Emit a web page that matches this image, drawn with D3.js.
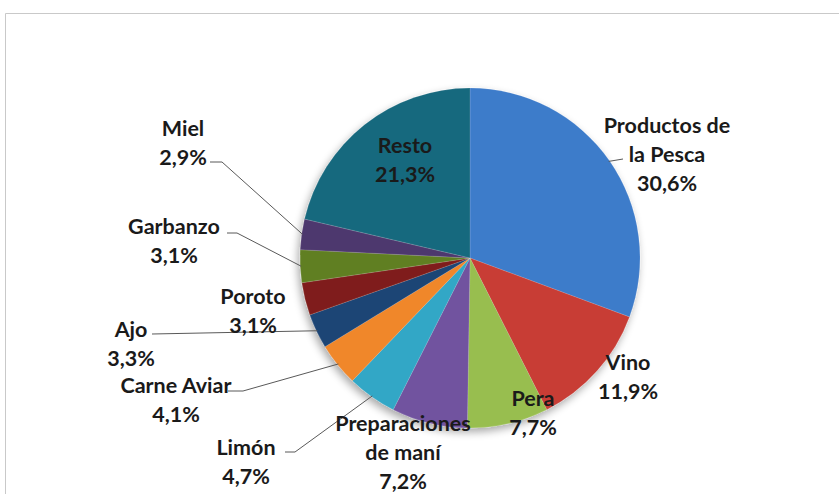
<!DOCTYPE html>
<html>
<head>
<meta charset="utf-8">
<script src="https://cdn.jsdelivr.net/npm/d3@7/dist/d3.min.js"></script>
<style>
  html, body { margin: 0; padding: 0; background: #fff; }
  svg { display: block; }
  text { font-family: "Lato", "Open Sans", sans-serif; font-weight: 700; fill: #1a1a1a; }
</style>
</head>
<body>
<svg id="chart" width="839" height="494"></svg>
<script>
// ---- data ----
const categories = ["Productos de la Pesca", "Vino", "Pera", "Preparaciones de maní", "Limón",
  "Carne Aviar", "Ajo", "Poroto", "Garbanzo", "Miel", "Resto"];
const values = [30.6, 11.9, 7.7, 7.2, 4.7, 4.1, 3.3, 3.1, 3.1, 2.9, 21.3];
const labelLines = [["Productos de", "la Pesca"], ["Vino"], ["Pera"], ["Preparaciones", "de maní"], ["Limón"],
  ["Carne Aviar"], ["Ajo"], ["Poroto"], ["Garbanzo"], ["Miel"], ["Resto"]];
const colors = ["#3a76c2", "#c03a34", "#92b64c", "#6c5098", "#31a0be",
  "#e6812a", "#1c426f", "#7a1e1a", "#5c7a22", "#4b3669", "#186579"];

// ---- layout (label anchor: center x, first line center y; leader elbow) ----
const labelPos = [
  {x: 667, y: 125, elbow: [623, 159], leader: true},
  {x: 628, y: 362},
  {x: 533, y: 398},
  {x: 403, y: 423},
  {x: 246, y: 447, elbow: [285, 452], elbow2: [295, 452], leader: true},
  {x: 176, y: 385, elbow: [228, 391], elbow2: [243, 391], leader: true},
  {x: 131, y: 329, elbow: [152, 334], elbow2: [152, 334], leader: true},
  {x: 253, y: 296},
  {x: 174, y: 226, elbow: [227, 233], elbow2: [237, 233], leader: true},
  {x: 183, y: 128, elbow: [210, 162], elbow2: [222, 162], leader: true},
  {x: 405, y: 145}
];

const W = 839, H = 494;
const cx = 470, cy = 258, R = 170;
const lineH = 29;

const svg = d3.select("#chart");

// frame
svg.append("path").attr("d", `M5.5,${H} V13.5 H${W}`).attr("fill", "none")
  .attr("stroke", "#c9c9c9").attr("stroke-width", 1);

const defs = svg.append("defs");
const shadow = defs.append("filter").attr("id", "shadow")
  .attr("x", "-20%").attr("y", "-20%").attr("width", "140%").attr("height", "140%");
shadow.append("feGaussianBlur").attr("in", "SourceAlpha").attr("stdDeviation", 4);
shadow.append("feOffset").attr("dx", -2).attr("dy", 4).attr("result", "ob");
shadow.append("feComponentTransfer").append("feFuncA").attr("type", "linear").attr("slope", 0.35);
const merge = shadow.append("feMerge");
merge.append("feMergeNode");
merge.append("feMergeNode").attr("in", "SourceGraphic");

colors.forEach((c, i) => {
  const g = defs.append("linearGradient").attr("id", "g" + i)
    .attr("gradientUnits", "userSpaceOnUse")
    .attr("x1", cx - R * 0.3).attr("y1", cy - R).attr("x2", cx + R * 0.3).attr("y2", cy + R);
  g.append("stop").attr("offset", "0%").attr("stop-color", d3.color(c).brighter(0.12));
  g.append("stop").attr("offset", "100%").attr("stop-color", d3.color(c).darker(0.25));
});

const data = categories.map((c, i) => ({cat: c, value: values[i], idx: i}));
const pie = d3.pie().value(d => d.value).sort(null);
const arcs = pie(data);
const arc = d3.arc().innerRadius(0).outerRadius(R);

const g = svg.append("g").attr("transform", `translate(${cx},${cy})`);
const pg = g.append("g").attr("filter", "url(#shadow)");
pg.selectAll("path").data(arcs).join("path")
  .attr("d", arc)
  .attr("fill", d => `url(#g${d.data.idx})`)
  .attr("stroke", "rgba(255,255,255,0.25)")
  .attr("stroke-width", 0.5);

// leader lines
arcs.forEach(a => {
  const p = labelPos[a.data.idx];
  if (!p.leader) return;
  const mid = (a.startAngle + a.endAngle) / 2;
  const rimX = cx + (R - 1) * Math.sin(mid), rimY = cy - (R - 1) * Math.cos(mid);
  const pts = p.elbow2 ? [p.elbow, p.elbow2, [rimX, rimY]] : [[rimX, rimY], p.elbow];
  svg.append("polyline")
    .attr("points", pts.map(q => q.join(",")).join(" "))
    .attr("fill", "none").attr("stroke", "#595959").attr("stroke-width", 1);
});

// labels
const fmt = v => d3.format(".1f")(v).replace(".", ",") + "%";
arcs.forEach(a => {
  const i = a.data.idx, p = labelPos[i];
  const lines = labelLines[i].concat([fmt(values[i])]);
  const t = svg.append("text").attr("text-anchor", "middle").attr("font-size", 21.5);
  lines.forEach((ln, k) => {
    t.append("tspan").attr("x", p.x).attr("y", p.y + k * lineH).attr("dy", "0.35em").text(ln);
  });
});
</script>
</body>
</html>
